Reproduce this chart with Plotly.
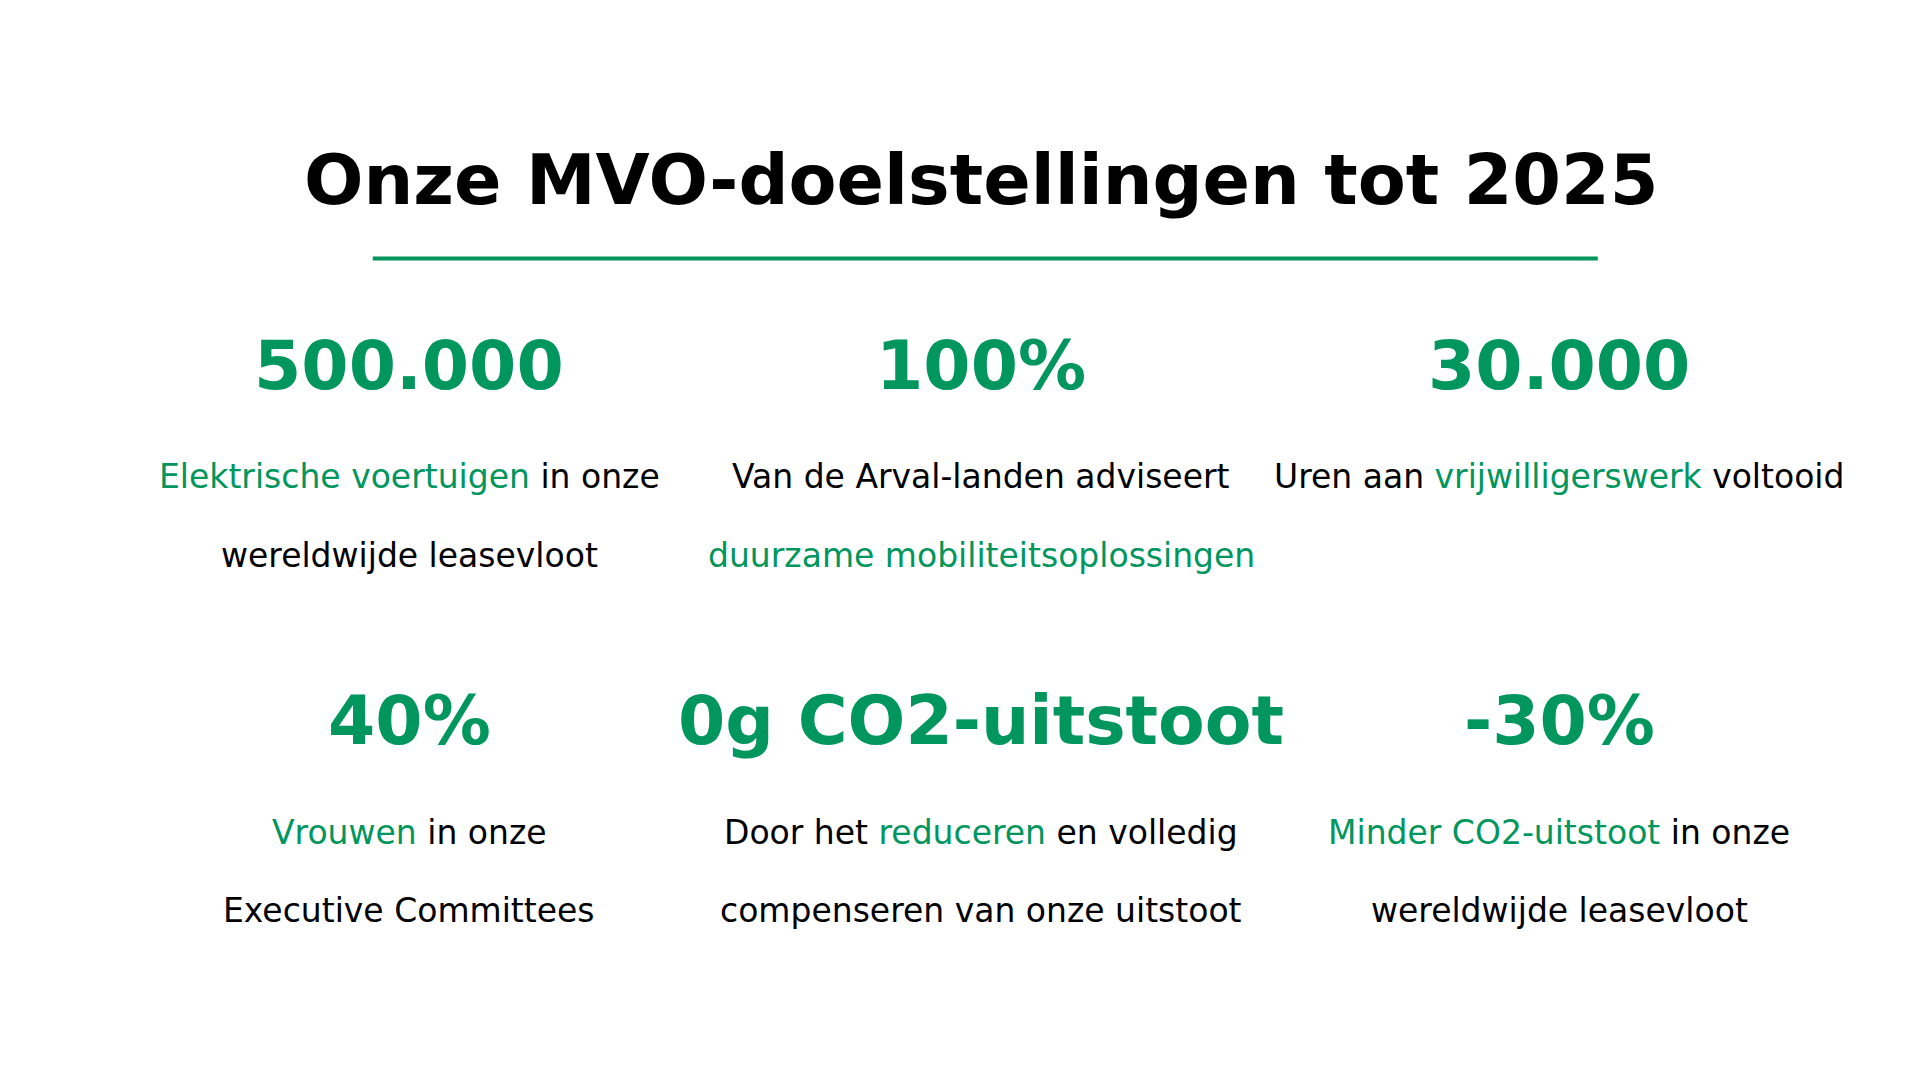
import plotly.graph_objects as go

GREEN = "#00965e"
FONT = "DejaVu Sans"

title = "Onze MVO-doelstellingen tot 2025"

# big figures per tile
figures = ["500.000", "100%", "30.000", "40%", "0g CO2-uitstoot", "-30%"]

# description lines, (text, highlighted) pieces
lines_1 = [
    [("Elektrische voertuigen", True), (" in onze", False)],
    [("Van de Arval-landen adviseert", False)],
    [("Uren aan ", False), ("vrijwilligerswerk", True), (" voltooid", False)],
    [("Vrouwen", True), (" in onze", False)],
    [("Door het ", False), ("reduceren", True), (" en volledig", False)],
    [("Minder CO2-uitstoot", True), (" in onze", False)],
]
lines_2 = [
    [("wereldwijde leasevloot", False)],
    [("duurzame mobiliteitsoplossingen", True)],
    [],
    [("Executive Committees", False)],
    [("compenseren van onze uitstoot", False)],
    [("wereldwijde leasevloot", False)],
]

col_x = [0.209, 0.507, 0.808]
row_y = [0.669, 0.340]


def rich(parts):
    out = ""
    for txt, hl in parts:
        if hl:
            out += "<span style='color:%s'>%s</span>" % (GREEN, txt)
        else:
            out += txt
    return out


fig = go.Figure()
fig.update_layout(
    width=1920, height=1080,
    margin=dict(l=0, r=0, t=0, b=0),
    paper_bgcolor="white", plot_bgcolor="white",
    xaxis=dict(range=[0, 1], visible=False),
    yaxis=dict(range=[0, 1], visible=False),
    showlegend=False,
)

fig.add_annotation(x=0.507, y=0.841, text="<b>" + title + "</b>", showarrow=False,
                   font=dict(family=FONT, size=70, color="black"))
fig.add_shape(type="line", x0=0.19, x1=0.828, y0=0.768, y1=0.768,
              line=dict(color=GREEN, width=4))

for i, big in enumerate(figures):
    x = col_x[i % 3]
    y = row_y[i // 3]
    fig.add_annotation(x=x, y=y, text="<b>" + big + "</b>", showarrow=False,
                       font=dict(family=FONT, size=68, color=GREEN))
    if lines_1[i]:
        fig.add_annotation(x=x, y=y - 0.103, text=rich(lines_1[i]), showarrow=False,
                           font=dict(family=FONT, size=33, color="black"))
    if lines_2[i]:
        fig.add_annotation(x=x, y=y - 0.176, text=rich(lines_2[i]), showarrow=False,
                           font=dict(family=FONT, size=33, color="black"))

fig.write_html("out.html")
